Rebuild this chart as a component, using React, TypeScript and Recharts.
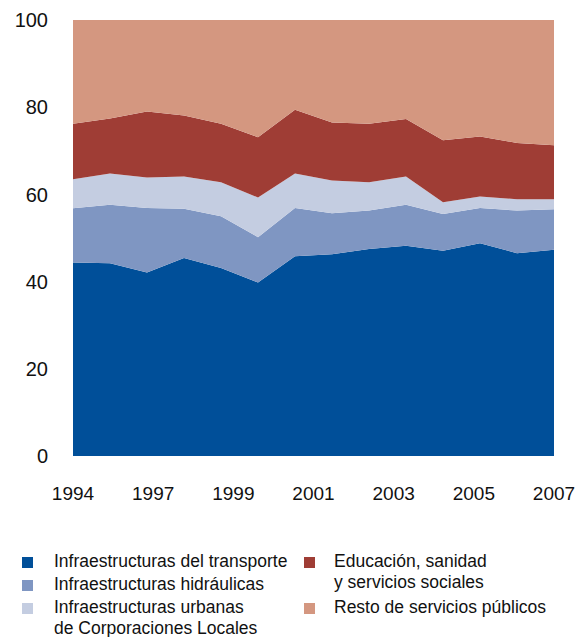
import React from "react"
import { Area, AreaChart, XAxis, YAxis } from "recharts"

// años de la serie (1994-2007)
const years = [1994, 1995, 1996, 1997, 1998, 1999, 2000, 2001, 2002, 2003, 2004, 2005, 2006, 2007]

// porcentaje sobre el total
const transporte = [44.4, 44.2, 42.1, 45.4, 43.1, 39.8, 45.8, 46.3, 47.5, 48.2, 47.1, 48.8, 46.5, 47.3]
const hidraulicas = [12.4, 13.4, 14.8, 11.3, 11.9, 10.4, 11.1, 9.4, 8.8, 9.4, 8.4, 8.1, 9.8, 9.3]
const urbanas = [6.7, 7.2, 7.0, 7.4, 7.8, 9.1, 7.9, 7.5, 6.5, 6.5, 2.7, 2.6, 2.6, 2.3]
const educacion = [12.7, 12.6, 15.1, 14.0, 13.4, 13.8, 14.6, 13.3, 13.4, 13.2, 14.2, 13.8, 12.9, 12.4]
const resto = [23.8, 22.6, 21.0, 21.9, 23.8, 26.9, 20.6, 23.5, 23.8, 22.7, 27.6, 26.7, 28.2, 28.7]

// etiquetas del eje x, repartidas a intervalos iguales como en el original
const xTickLabels = ["1994", "1997", "1999", "2001", "2003", "2005", "2007"]
const yTicks = [0, 20, 40, 60, 80, 100]

const series = [
  { key: "transporte", name: "Infraestructuras del transporte", color: "#004f99", values: transporte },
  { key: "hidraulicas", name: "Infraestructuras hidráulicas", color: "#7f96c2", values: hidraulicas },
  { key: "urbanas", name: "Infraestructuras urbanas\nde Corporaciones Locales", color: "#c4cde1", values: urbanas },
  { key: "educacion", name: "Educación, sanidad\ny servicios sociales", color: "#9f3d35", values: educacion },
  { key: "resto", name: "Resto de servicios públicos", color: "#d49780", values: resto },
]

const data = years.map((year, i) => {
  const row: Record<string, number> = { year }
  series.forEach((s) => {
    row[s.key] = s.values[i]
  })
  return row
})

const span = years[years.length - 1] - years[0]
const xTicks = xTickLabels.map((_, i) => years[0] + (i * span) / (xTickLabels.length - 1))

const font = '"Liberation Sans", Arial, sans-serif'

function LegendItem({ name, color, x, textX, y }: { name: string; color: string; x: number; textX: number; y: number }) {
  return (
    <div style={{ position: "absolute", left: x, top: y }}>
      <div style={{ position: "absolute", left: 0, top: 6, width: 11, height: 11, background: color }} />
      <div style={{ position: "absolute", left: textX, top: 0, whiteSpace: "pre", fontSize: 17.5, lineHeight: "21px", color: "#111" }}>
        {name}
      </div>
    </div>
  )
}

// posiciones de la leyenda: dos columnas
const legendPos = [
  { x: 22, textX: 32, y: 551 },
  { x: 22, textX: 32, y: 574 },
  { x: 22, textX: 32, y: 597 },
  { x: 304, textX: 30, y: 551 },
  { x: 304, textX: 30, y: 597 },
]

export default function App() {
  return (
    <div style={{ position: "absolute", left: 0, top: 0, width: 586, height: 637, overflow: "hidden", background: "#fff", fontFamily: font }}>
      <AreaChart width={586} height={520} data={data} margin={{ top: 20, right: 32, bottom: 14, left: 0 }}>
        <XAxis
          dataKey="year"
          type="number"
          domain={[years[0], years[years.length - 1]]}
          ticks={xTicks}
          tickFormatter={(v: number) => xTickLabels[Math.round(((v - years[0]) * (xTickLabels.length - 1)) / span)]}
          axisLine={false}
          tickLine={false}
          tickSize={0}
          tickMargin={31}
          height={50}
          interval={0}
          tick={{ fontSize: 19, fill: "#111", fontFamily: font }}
        />
        <YAxis
          type="number"
          domain={[0, 100]}
          ticks={yTicks}
          axisLine={false}
          tickLine={false}
          tickSize={0}
          tickMargin={25}
          width={73}
          interval={0}
          tick={{ fontSize: 20, fill: "#111", fontFamily: font }}
        />
        {series.map((s) => (
          <Area
            key={s.key}
            type="linear"
            dataKey={s.key}
            stackId="1"
            stroke="none"
            fill={s.color}
            fillOpacity={1}
            isAnimationActive={false}
          />
        ))}
      </AreaChart>
      {series.map((s, i) => (
        <LegendItem key={s.key} name={s.name} color={s.color} x={legendPos[i].x} textX={legendPos[i].textX} y={legendPos[i].y} />
      ))}
    </div>
  )
}
